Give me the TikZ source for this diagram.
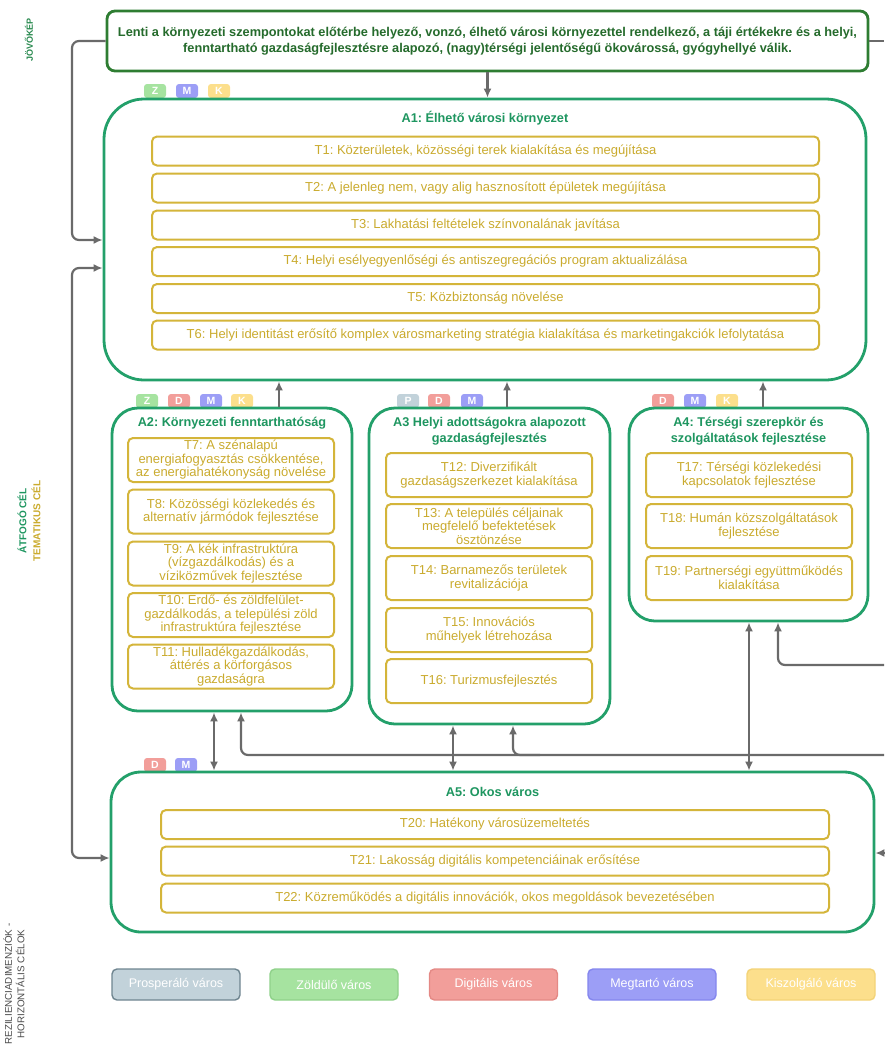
\documentclass[tikz,border=0pt]{standalone}
\usepackage{fontspec}
\setmainfont{Liberation Sans}
\frenchspacing
\usetikzlibrary{arrows.meta}
\definecolor{visgreen}{HTML}{2E7D32}
\definecolor{vistext}{HTML}{256B2C}
\definecolor{agreen}{HTML}{23A06A}
\definecolor{atitle}{HTML}{1E9660}
\definecolor{tgold}{HTML}{D4B53A}
\definecolor{ttext}{HTML}{CAAB2E}
\definecolor{conngray}{HTML}{6A6A6A}
\definecolor{jgreen}{HTML}{2A8A50}
\definecolor{rezgray}{HTML}{4A4A4A}
\definecolor{zfill}{HTML}{A6E3A0}
\definecolor{dfill}{HTML}{F29E9A}
\definecolor{mfill}{HTML}{9C9EF6}
\definecolor{kfill}{HTML}{FCDF8C}
\definecolor{pfill}{HTML}{C2D2DA}
\definecolor{pborder}{HTML}{6F8590}
\definecolor{zborder}{HTML}{8FD18A}
\definecolor{dborder}{HTML}{E48985}
\definecolor{mborder}{HTML}{8486EE}
\definecolor{kborder}{HTML}{F3D377}
\begin{document}
\begin{tikzpicture}[x=1pt,y=-1pt,
  visbox/.style={draw=visgreen,line width=2.8pt,rounded corners=8pt,fill=white,text=vistext,
    font=\bfseries\fontsize{12.75}{16}\selectfont,align=center,inner sep=1pt},
  abox/.style={draw=agreen,line width=2.8pt,fill=white,inner sep=0pt},
  atitle/.style={text=atitle,font=\bfseries\fontsize{12.7}{15.5}\selectfont,align=center,inner sep=0pt},
  tbox/.style={draw=tgold,line width=2pt,rounded corners=5pt,text=ttext,
    font=\fontsize{13}{13.5}\selectfont,align=center,inner sep=1pt},
  widet/.style={tbox,minimum width=667pt,minimum height=29pt},
  narrowt/.style={tbox,minimum width=206pt,minimum height=44pt},
  tag/.style={minimum width=22pt,minimum height=14pt,inner sep=0pt,rounded corners=3pt,
    text=white,font=\bfseries\fontsize{10.5}{10.5}\selectfont},
  legbox/.style={minimum width=128pt,minimum height=31pt,rounded corners=5pt,line width=1.4pt,
    text=white,font=\fontsize{12.5}{13}\selectfont},
  link/.style={draw=conngray,line width=2.2pt,rounded corners=7pt},
  conn/.style={link,-{Latex[length=9pt,width=8pt]}},
  dconn/.style={link,{Latex[length=9pt,width=8pt]}-{Latex[length=9pt,width=8pt]}}
]
\useasboundingbox (0,0) rectangle (884,1047);

% side labels
\node[rotate=90,font=\bfseries\fontsize{9}{9}\selectfont,text=jgreen] (jov) at (29,40) {JÖVŐKÉP};
\node[rotate=90,align=center,font=\bfseries\fontsize{10}{14}\selectfont] (atf) at (29,521)
  {\textcolor{atitle}{ÁTFOGÓ CÉL}\\\textcolor{ttext}{TEMATIKUS CÉL}};
\node[rotate=90,align=center,font=\fontsize{9.8}{12.5}\selectfont,text=rezgray] (rez) at (14,984)
  {REZILIENCIADIMENZIÓK -\\HORIZONTÁLIS CÉLOK};

% coordinates
\coordinate (LA) at (72,240);
\coordinate (LB) at (72,268);
\coordinate (LC) at (72,858);
\coordinate (R1) at (884,41);
\coordinate (R2) at (884,665);
\coordinate (R3) at (884,755);
\coordinate (R4) at (884,853);
\coordinate (B3) at (540,755);
\coordinate (xA2) at (279,0);
\coordinate (xA3) at (507,0);
\coordinate (xA4) at (763,0);
\coordinate (x25) at (214,0);
\coordinate (x26) at (241,0);
\coordinate (x35) at (453,0);
\coordinate (x3u) at (513,0);
\coordinate (x45) at (749,0);
\coordinate (x4u) at (778,0);

% tags
\node[tag,fill=zfill] (a1z) at (155,91) {Z};
\node[tag,fill=mfill] (a1m) at (187,91) {M};
\node[tag,fill=kfill] (a1k) at (219,91) {K};
\node[tag,fill=zfill] (a2z) at (147,401) {Z};
\node[tag,fill=dfill] (a2d) at (179,401) {D};
\node[tag,fill=mfill] (a2m) at (211,401) {M};
\node[tag,fill=kfill] (a2k) at (242,401) {K};
\node[tag,fill=pfill] (a3p) at (408,401) {P};
\node[tag,fill=dfill] (a3d) at (439,401) {D};
\node[tag,fill=mfill] (a3m) at (472,401) {M};
\node[tag,fill=dfill] (a4d) at (663,401) {D};
\node[tag,fill=mfill] (a4m) at (695,401) {M};
\node[tag,fill=kfill] (a4k) at (727,401) {K};
\node[tag,fill=dfill] (a5d) at (155,765) {D};
\node[tag,fill=mfill] (a5m) at (186,765) {M};

% vision
\node[visbox,minimum width=761pt,minimum height=60pt] (vis) at (487.5,41)
 {Lenti a környezeti szempontokat előtérbe helyező, vonzó, élhető városi környezettel rendelkező, a táji értékekre és a helyi,\\
  fenntartható gazdaságfejlesztésre alapozó, (nagy)térségi jelentőségű ökovárossá, gyógyhellyé válik.};

% area boxes
\node[abox,rounded corners=40pt,minimum width=762pt,minimum height=281pt] (A1) at (485,239.5) {};
\node[abox,rounded corners=26pt,minimum width=240pt,minimum height=303pt] (A2) at (232,559.5) {};
\node[abox,rounded corners=26pt,minimum width=241pt,minimum height=316pt] (A3) at (489.5,566) {};
\node[abox,rounded corners=26pt,minimum width=239pt,minimum height=213pt] (A4) at (748.5,514.5) {};
\node[abox,rounded corners=30pt,minimum width=763pt,minimum height=160pt] (A5) at (492.5,852) {};

% titles
\node[atitle] (A1t) at (485,118) {A1: Élhető városi környezet};
\node[atitle] (A2t) at (232,423) {A2: Környezeti fenntarthatóság};
\node[atitle] (A3t) at (489.5,431) {A3 Helyi adottságokra alapozott\\gazdaságfejlesztés};
\node[atitle] (A4t) at (748.5,431) {A4: Térségi szerepkör és\\szolgáltatások fejlesztése};
\node[atitle] (A5t) at (492.5,792) {A5: Okos város};

% A1 tasks
\node[widet] (T1) at (485.5,151) {T1: Közterületek, közösségi terek kialakítása és megújítása};
\node[widet] (T2) at (485.5,188) {T2: A jelenleg nem, vagy alig hasznosított épületek megújítása};
\node[widet] (T3) at (485.5,225) {T3: Lakhatási feltételek színvonalának javítása};
\node[widet] (T4) at (485.5,261.5) {T4: Helyi esélyegyenlőségi és antiszegregációs program aktualizálása};
\node[widet] (T5) at (485.5,298.5) {T5: Közbiztonság növelése};
\node[widet] (T6) at (485.5,335) {T6: Helyi identitást erősítő komplex városmarketing stratégia kialakítása és marketingakciók lefolytatása};

% A2 tasks
\node[narrowt] (T7) at (231,460) {T7: A szénalapú\\energiafogyasztás csökkentése,\\az energiahatékonyság növelése};
\node[narrowt] (T8) at (231,511.5) {T8: Közösségi közlekedés és\\alternatív jármódok fejlesztése};
\node[narrowt] (T9) at (231,563.5) {T9: A kék infrastruktúra\\(vízgazdálkodás) és a\\víziközművek fejlesztése};
\node[narrowt] (T10) at (231,615) {T10: Erdő- és zöldfelület-\\gazdálkodás, a települési zöld\\infrastruktúra fejlesztése};
\node[narrowt] (T11) at (231,666.5) {T11: Hulladékgazdálkodás,\\áttérés a körforgásos\\gazdaságra};

% A3 tasks
\node[narrowt] (T12) at (489,475) {T12: Diverzifikált\\gazdaságszerkezet kialakítása};
\node[narrowt] (T13) at (489,526) {T13: A település céljainak\\megfelelő befektetések\\ösztönzése};
\node[narrowt] (T14) at (489,578) {T14: Barnamezős területek\\revitalizációja};
\node[narrowt] (T15) at (489,630) {T15: Innovációs\\műhelyek létrehozása};
\node[narrowt] (T16) at (489,681) {T16: Turizmusfejlesztés};

% A4 tasks
\node[narrowt] (T17) at (749,475) {T17: Térségi közlekedési\\kapcsolatok fejlesztése};
\node[narrowt] (T18) at (749,526) {T18: Humán közszolgáltatások\\fejlesztése};
\node[narrowt] (T19) at (749,578) {T19: Partnerségi együttműködés\\kialakítása};

% A5 tasks
\node[widet,minimum width=668pt] (T20) at (495,824.5) {T20: Hatékony városüzemeltetés};
\node[widet,minimum width=668pt] (T21) at (495,861) {T21: Lakosság digitális kompetenciáinak erősítése};
\node[widet,minimum width=668pt] (T22) at (495,898) {T22: Közreműködés a digitális innovációk, okos megoldások bevezetésében};

% legend
\node[legbox,fill=pfill,draw=pborder] (LP) at (176,984.5) {Prosperáló város};
\node[legbox,fill=zfill,draw=zborder] (LZ) at (334,984.5) {Zöldülő város};
\node[legbox,fill=dfill,draw=dborder] (LD) at (493.5,984.5) {Digitális város};
\node[legbox,fill=mfill,draw=mborder] (LM) at (652,984.5) {Megtartó város};
\node[legbox,fill=kfill,draw=kborder] (LK) at (811,984.5) {Kiszolgáló város};

% connectors
\draw[conn] (vis.south) -- (vis.south |- A1.north);
\draw[conn] (vis.west) -| (LA) -- (LA -| A1.west);
\draw[dconn] (LB -| A1.west) -- (LB) -- (LC) -- (LC -| A5.west);
\draw[link] (vis.east) -- (R1);
\draw[conn] (xA2 |- A2.north) -- (xA2 |- A1.south);
\draw[conn] (xA3 |- A3.north) -- (xA3 |- A1.south);
\draw[conn] (xA4 |- A4.north) -- (xA4 |- A1.south);
\draw[dconn] (x25 |- A2.south) -- (x25 |- A5.north);
\draw[conn] (R3) -| (x26 |- A2.south);
\draw[conn] (B3) -| (x3u |- A3.south);
\draw[dconn] (x35 |- A3.south) -- (x35 |- A5.north);
\draw[dconn] (x45 |- A4.south) -- (x45 |- A5.north);
\draw[conn] (R2) -| (x4u |- A4.south);
\draw[conn] (R4) -- (A5.east |- R4);
\end{tikzpicture}
\end{document}
